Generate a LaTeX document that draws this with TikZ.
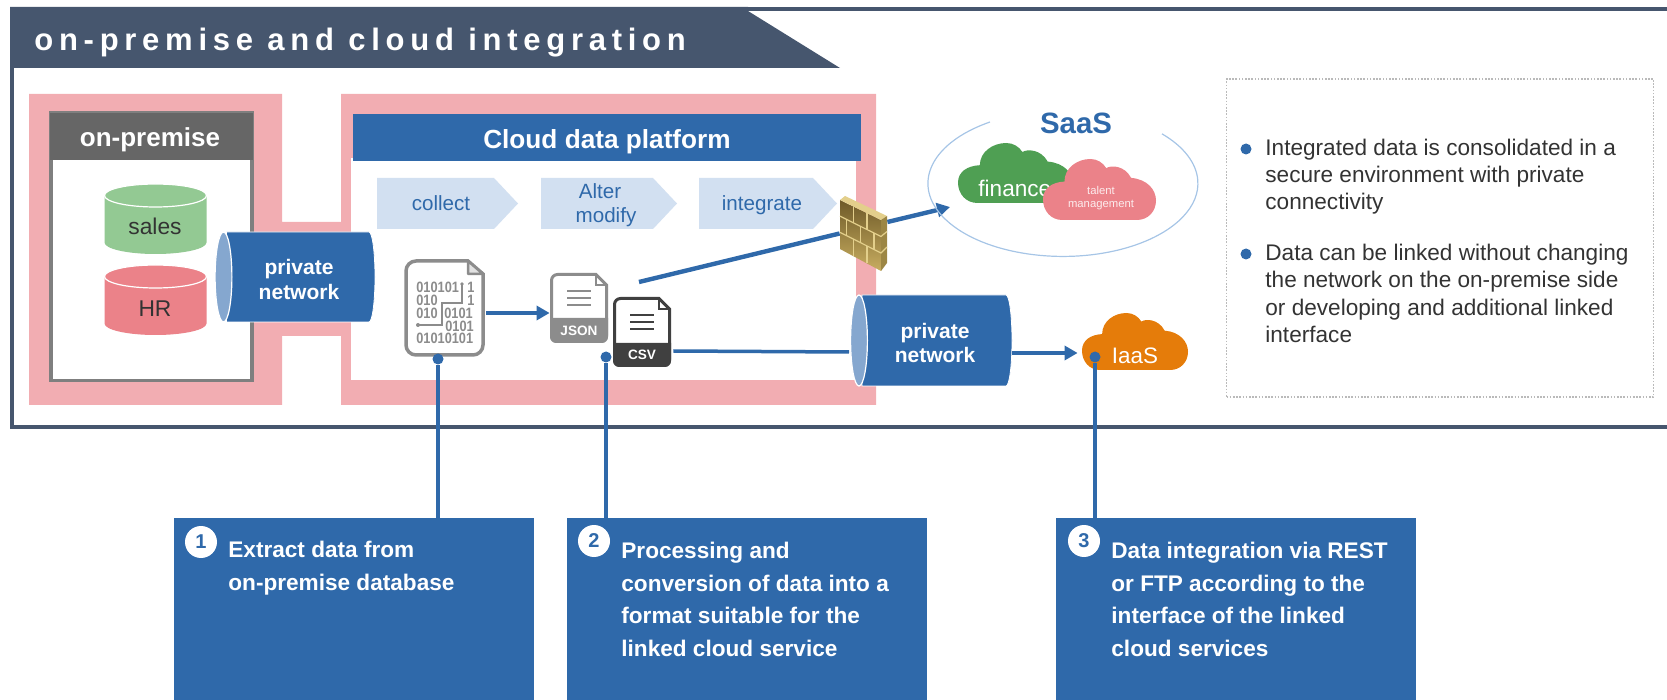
\documentclass[tikz,border=0pt]{standalone}
\usepackage{fontspec}
\setmainfont{Liberation Sans}
\newfontfamily\titlefont[LetterSpace=18.5]{Liberation Sans}
\newfontfamily\bitfont[FakeStretch=.85]{Liberation Sans}
\usetikzlibrary{arrows.meta}
\definecolor{B1}{RGB}{47,105,170}
\definecolor{B2}{RGB}{133,167,207}
\definecolor{B3}{RGB}{210,224,241}
\definecolor{B4}{RGB}{166,197,230}
\definecolor{S1}{RGB}{70,86,110}
\definecolor{P1}{RGB}{242,173,178}
\definecolor{R1}{RGB}{235,130,137}
\definecolor{G1}{RGB}{147,201,147}
\definecolor{G2}{RGB}{79,159,83}
\definecolor{O1}{RGB}{229,124,10}
\definecolor{K1}{RGB}{102,102,102}
\definecolor{K2}{RGB}{127,127,127}
\definecolor{K3}{RGB}{140,140,140}
\definecolor{K4}{RGB}{64,64,64}
\definecolor{T1}{RGB}{51,51,51}
\definecolor{W1}{RGB}{110,90,40}
\definecolor{W2}{RGB}{200,173,96}
\definecolor{W3}{RGB}{227,207,139}
\definecolor{W4}{RGB}{156,134,68}
\tikzstyle{joint}=[shape=circle, minimum size=5.5pt, inner sep=0, fill=B1]
\tikzstyle{badge}=[shape=circle, minimum size=16pt, inner sep=0, fill=white, text=B1, font=\fontsize{10}{10}\selectfont\bfseries]
\tikzstyle{card}=[minimum width=180pt, minimum height=91pt, inner sep=0, fill=B1]
\tikzstyle{cardtext}=[anchor=west, inner sep=0, align=left, text=white, font=\fontsize{11.3}{16.25}\selectfont\bfseries]
\tikzstyle{note}=[anchor=west, inner sep=0, align=left, text=T1, font=\fontsize{11.3}{13.6}\selectfont]
\tikzstyle{pipetext}=[align=center, inner sep=0, text=white, font=\fontsize{10.5}{12.4}\selectfont\bfseries]
\tikzstyle{steptext}=[align=center, inner sep=0, text=B1, font=\fontsize{10.3}{12.5}\selectfont]
\tikzstyle{dbtext}=[inner sep=0, text=T1, font=\fontsize{11.4}{12}\selectfont]
\tikzstyle{bits}=[anchor=west, inner sep=0, text=K3, font=\fontsize{7.5}{8}\bitfont\bfseries]
\tikzstyle{hollow}=[inner sep=0]
\tikzstyle{flow}=[B1, line width=2.2pt]
\tikzstyle{flowtip}=[B1, line width=2.2pt, -{Triangle[length=6.5pt,width=7pt]}]
\tikzstyle{leader}=[B1, line width=1.75pt]
\newcommand{\dbstack}[3]{
  \fill[#3] (#1-51,#2+11.5) -- (#1-51,#2+58.5) arc[start angle=180,end angle=0,x radius=51,y radius=11.5] -- (#1+51,#2+11.5) -- cycle;
  \draw[white, fill=#3, line width=.6pt] (#1,#2+11.5) ellipse [x radius=51, y radius=11.5];
}
\newcommand{\netpipe}[4]{
  \fill[B1, draw=white, line width=.4pt] (#1+3,#3) -- (#2,#3) arc[start angle=-90,end angle=90,x radius=6,y radius=(#4-#3)/2] -- (#1+3,#4) -- cycle;
  \draw[white, fill=B2, line width=.6pt] (#1,#3/2+#4/2) ellipse [x radius=8.4, y radius=#4/2-#3/2];
}
\newcommand{\cloudshape}[6]{
  \fill[#6, shift={(#2,#3)}, xscale=#4, yscale=#5] (.17,1) .. controls (.07,1) and (0,.85) .. (0,.66) .. controls (0,.48) and (.08,.38) .. (.19,.37) .. controls (.19,.15) and (.3,0) .. (.42,0) .. controls (.48,0) and (.53,.06) .. (.56,.15) .. controls (.6,.1) and (.72,.1) .. (.78,.31) .. controls (.92,.33) and (1,.5) .. (1,.68) .. controls (1,.86) and (.93,1) .. (.83,1) -- cycle;
  \node[hollow, minimum width=#4*.5pt, minimum height=#5*.5pt] (#1) at (#2+#4/2,#3+#5/2) {};
}
\newcommand{\fileicon}[6]{
  \draw[#4, fill=white, line width=1.5pt] (#2+46,#3+1.5) [rounded corners=3pt] -- (#2+1.5,#3+1.5) -- (#2+1.5,#3+68.5) -- (#2+56.5,#3+68.5) [sharp corners] -- (#2+56.5,#3+12) -- cycle;
  \draw[#4, line width=1.25pt] (#2+46,#3+1.5) -- (#2+46,#3+12) -- (#2+56.5,#3+12);
  \fill[#4] (#2,#5) [rounded corners=3pt] -- (#2,#3+70) -- (#2+58,#3+70) [sharp corners] -- (#2+58,#5) -- cycle;
  \foreach \k in {18,25,32}
    \draw[#4, line width=1.25pt] (#2+17,#3+\k) -- (#2+41,#3+\k);
  \node[inner sep=0, text=white, font=\fontsize{6.8}{7}\selectfont\bfseries] (#1label) at (#2+29,#5/2+#3/2+35) {#6};
  \node[hollow, minimum width=29pt, minimum height=35pt] (#1) at (#2+29,#3+35) {};
}
\begin{document}
\begin{tikzpicture}[x=.5pt,y=-.5pt]
  \useasboundingbox (0,0) rectangle (1667,700);
  \draw[S1, line width=1.75pt] (1667,9)--(12,9)--(12,427)--(1667,427);
  \fill[S1] (10,7)--(748,7)--(748,11)--(840,68)--(10,68)--cycle;
  \node[anchor=west, inner sep=0, text=white, font=\fontsize{15.5}{16}\titlefont\bfseries] (title) at (34,43) {on-premise and cloud integration};
  \fill[P1] (29,94)--(282,94)--(282,222)--(341,222)--(341,94)--(876,94)--(876,405)--(341,405)--(341,336)--(282,336)--(282,405)--(29,405)--cycle;
  \node[minimum width=100.5pt, minimum height=134pt, inner sep=0, draw=K2, fill=white, line width=1.75pt] (premise) at (151.5,246.5) {};
  \node[minimum width=101.5pt, minimum height=23.5pt, inner sep=0, fill=K1] (premisehead) at (151.5,136.5) {};
  \node[inner sep=0, text=white, font=\fontsize{13}{14}\selectfont\bfseries] (premisetext) at (150,140) {on-premise};
  \dbstack{155.5}{184}{G1}
  \dbstack{155.5}{265}{R1}
  \node[dbtext] (sales) at (155,226) {sales};
  \node[dbtext] (hr) at (155,309) {HR};
  \fill[white] (351,158) rectangle (856,380);
  \node[minimum width=254pt, minimum height=23.5pt, inner sep=0, fill=B1] (platform) at (607,137.5) {};
  \node[inner sep=0, text=white, font=\fontsize{13.1}{14}\selectfont\bfseries] (platformtext) at (607,142) {Cloud data platform};
  \foreach \xa/\xb/\xc in {377/494/518, 541/653/677, 699/813/837}
    \fill[B3] (\xa,178)--(\xb,178)--(\xc,203.5)--(\xb,229)--(\xa,229)--cycle;
  \node[steptext] (collect) at (441,203) {collect};
  \node[steptext] (alter) at (600,191) {Alter};
  \node[steptext] (modify) at (606,217) {modify};
  \node[steptext] (integrate) at (762,205) {integrate};
  \node[card] (card1) at (354,609) {};
  \node[card] (card2) at (747,609) {};
  \node[card] (card3) at (1236,609) {};
  \node[badge] (badge1) at (201,542) {1};
  \node[badge] (badge2) at (594,541) {2};
  \node[badge] (badge3) at (1084,541) {3};
  \node[cardtext] (text1) at (228,568) {Extract data from\\on-premise database};
  \node[cardtext] (text2) at (621,599.5) {Processing and\\conversion of data into a\\format suitable for the\\linked cloud service};
  \node[cardtext] (text3) at (1111,599.5) {Data integration via REST\\or FTP according to the\\interface of the linked\\cloud services};
  \draw[K3, fill=white, line width=1.75pt, rounded corners=5pt] (406,261) -- (406,355) -- (483,355) [sharp corners] -- (483,274) -- (468,261) [rounded corners=5pt] -- cycle;
  \draw[K3, fill=K3!25, line width=1.25pt, line join=round] (468,261)--(468,274)--(483,274)--cycle;
  \node[hollow, minimum width=40pt, minimum height=48.5pt] (bindoc) at (445,307.5) {};
  \foreach \xx/\yy/\val [count=\i] in {416/287/010101, 416/300/010, 416/313/010, 444/313/0101, 445/326/0101, 416/338/01010101, 467/287/1, 467/300/1}
    \node[bits] (bit\i) at (\xx,\yy) {\val};
  \draw[K3, line width=.6pt] (462,284)--(462,303)--(442,303)--(442,325)--(418,325);
  \fill[K3] (462,284) circle (1.8) (418,325) circle (2);
  \fileicon{jsondoc}{550}{273}{K3}{318}{JSON}
  \fileicon{csvdoc}{613}{297}{K4}{343}{CSV}
  \coordinate (csvout) at (639,282);
  \coordinate (saasin) at (950,207);
  \node[hollow, minimum width=23.5pt, minimum height=37.5pt] (wall) at (863.5,233.5) {};
  \draw[flowtip] ([shift={(1,5.5)}]bindoc.east) -- ([shift={(0,5)}]jsondoc.west);
  \draw[flow] (csvout) -- (wall.west);
  \draw[flowtip] ([shift={(0,-11.5)}]wall.east) -- (saasin);
  \draw[flow, line width=1.75pt] ([shift={(2,19)}]csvdoc.east) -- (849,352);
  \netpipe{223.5}{369}{232}{322}
  \netpipe{859}{1006}{295}{386}
  \node[hollow, minimum width=80pt, minimum height=45pt] (net1) at (295.5,277) {};
  \node[hollow, minimum width=80pt, minimum height=45.5pt] (net2) at (931,340.5) {};
  \node[pipetext] (net1text) at (299,279.5) {private\\network};
  \node[pipetext] (net2text) at (935,343) {private\\network};
  \shade[top color=W1, bottom color=W2] (840,200)--(881,220)--(881,271)--(840,249)--cycle;
  \fill[W3] (840,200)--(845,196)--(887,216)--(881,220)--cycle;
  \fill[W4] (881,220)--(887,216)--(887,263)--(881,271)--cycle;
  \foreach \a in {.33,.66}
    \draw[W3, line width=.6pt] (840,200+49*\a)--(881,220+50*\a)--(887,216+47*\a);
  \foreach \u/\a/\b in {.33/0/.33, .66/0/.33, .16/.33/.66, .5/.33/.66, .83/.33/.66, .33/.66/1, .66/.66/1}
    \draw[W3, line width=.6pt] (840+41*\u,200+20*\u+49.5*\a)--(840+41*\u,200+20*\u+49.5*\b);
  \draw[B4, line width=.6pt] (990,122) arc[start angle=-122.7,end angle=-402.8,x radius=135,y radius=73];
  \node[inner sep=0, text=B1, font=\fontsize{14.7}{15}\selectfont\bfseries] (saas) at (1076,123) {SaaS};
  \cloudshape{finance}{958}{143}{115}{60}{G2}
  \node[anchor=west, inner sep=0, text=white, font=\fontsize{11.3}{12}\selectfont] (financetext) at (978,188) {finance};
  \cloudshape{talent}{1043}{159}{113}{61}{R1}
  \node[align=center, inner sep=0, text=white!85!R1, font=\fontsize{5.65}{6.5}\selectfont] (talenttext) at (1101,198) {talent\\management};
  \cloudshape{iaas}{1082}{313}{106}{57}{O1}
  \node[inner sep=0, text=white, font=\fontsize{11.2}{12}\selectfont] (iaastext) at (1135,356) {IaaS};
  \draw[flowtip] ([shift={(1,12.5)}]net2.east) -- ([shift={(-4,11.5)}]iaas.west);
  \node[joint] (dot1) at (438,359) {};
  \node[joint] (dot2) at (606,357) {};
  \node[joint] (dot3) at (1095,357) {};
  \draw[leader] (dot1) -- (dot1 |- card1.north);
  \draw[leader] (dot2) -- (dot2 |- card2.north);
  \draw[leader] (dot3) -- (dot3 |- card3.north);
  \node[minimum width=213.5pt, minimum height=159pt, inner sep=0, draw=K3!60, line width=.8pt, dash pattern=on .8pt off .8pt] (panel) at (1440,238) {};
  \node[joint] (bullet1) at (1246,149) {};
  \node[joint] (bullet2) at (1246,254) {};
  \node[note] (note1) at (1265,176.5) {Integrated data is consolidated in a\\secure environment with private\\connectivity};
  \node[note] (note2) at (1265,293.5) {Data can be linked without changing\\the network on the on-premise side\\or developing and additional linked\\interface};
\end{tikzpicture}
\end{document}
